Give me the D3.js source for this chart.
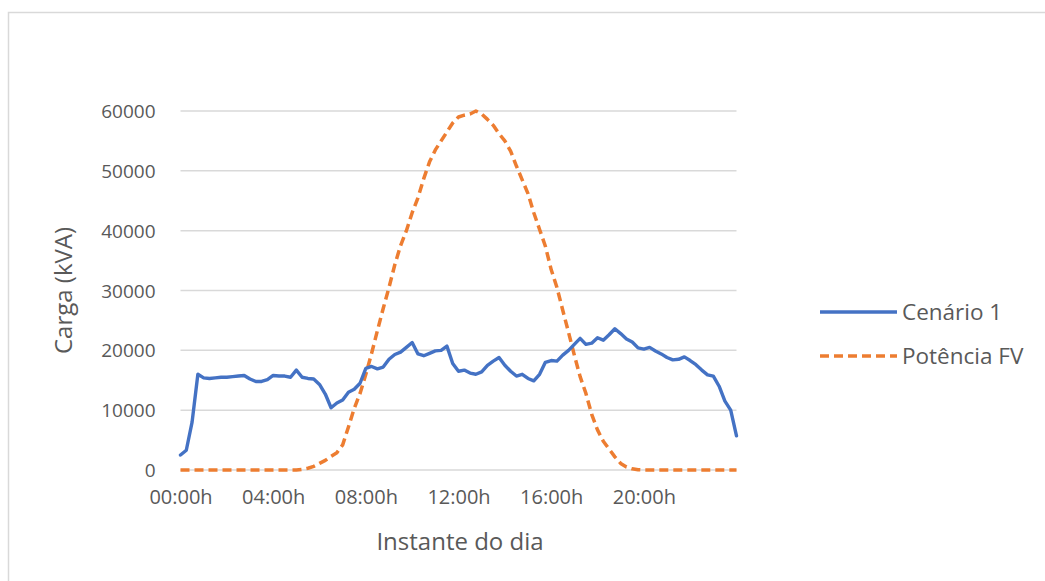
<!DOCTYPE html>
<html>
<head>
<meta charset="utf-8">
<script src="https://cdn.jsdelivr.net/npm/d3@7"></script>
<style>
  html, body { margin: 0; padding: 0; background: #fff; }
  svg { display: block; }
  text { font-family: "Open Sans", "Liberation Sans", sans-serif; fill: #595959; }
</style>
</head>
<body>
<svg id="chart" width="1045" height="581"></svg>
<script>
// ---- Data (15-minute steps, 00:00h .. 24:00h) ----
const seriesNames = ["Cenário 1", "Potência FV"];
const tickLabels = ["00:00h", "04:00h", "08:00h", "12:00h", "16:00h", "20:00h"];
const yTicks = [0, 10000, 20000, 30000, 40000, 50000, 60000];

const cenario1 = [
  2500, 3300, 8000, 16000, 15400, 15300, 15400, 15500, 15500, 15600,
  15700, 15800, 15200, 14800, 14800, 15100, 15800, 15700, 15700, 15500,
  16700, 15500, 15300, 15200, 14300, 12700, 10400, 11200, 11700, 13000,
  13500, 14500, 17000, 17300, 16900, 17200, 18500, 19300, 19700, 20500,
  21300, 19400, 19100, 19500, 19900, 20000, 20700, 17800, 16500, 16700,
  16200, 16000, 16400, 17500, 18200, 18800, 17500, 16500, 15700, 16000,
  15300, 14900, 16000, 18000, 18300, 18200, 19200, 20000, 21000, 22000,
  21000, 21200, 22100, 21700, 22600, 23600, 22800, 21900, 21400, 20400,
  20200, 20500, 19900, 19400, 18800, 18400, 18500, 18900, 18300, 17600,
  16700, 15900, 15700, 14000, 11500, 10000, 5700
];

const potenciaFV = [
  0, 0, 0, 0, 0, 0, 0, 0, 0, 0,
  0, 0, 0, 0, 0, 0, 0, 0, 0, 0,
  0, 100, 300, 600, 1100, 1600, 2300, 2900, 4200, 7200,
  10300, 12800, 16000, 19500, 23300, 27000, 30500, 34300, 37500, 40000,
  43000, 45500, 48700, 51500, 53500, 55000, 56500, 58000, 59000, 59300,
  59500, 60000, 59500, 58600, 57600, 56200, 55000, 53300, 50800, 48500,
  46200, 43000, 40200, 37400, 33500, 30500, 26700, 23000, 19200, 15600,
  12800, 9300, 6700, 4800, 3500, 2200, 1100, 500, 200, 50,
  0, 0, 0, 0, 0, 0, 0, 0, 0, 0,
  0, 0, 0, 0, 0, 0, 0
];

// ---- Layout ----
const svg = d3.select("#chart");
const plot = { left: 180.5, right: 736.5, top: 111, bottom: 470 };

// chart border
svg.append("rect")
  .attr("x", 8.5).attr("y", 12.5)
  .attr("width", 1100).attr("height", 700)
  .attr("fill", "none").attr("stroke", "#d9d9d9").attr("stroke-width", 1.5);

const n = cenario1.length;
const x = d3.scaleLinear().domain([0, n - 1]).range([plot.left, plot.right]);
const y = d3.scaleLinear().domain([0, 60000]).range([plot.bottom, plot.top]);

// gridlines
svg.append("g").selectAll("line").data(yTicks).join("line")
  .attr("x1", plot.left).attr("x2", plot.right)
  .attr("y1", d => y(d)).attr("y2", d => y(d))
  .attr("stroke", "#d9d9d9").attr("stroke-width", 1.5);

// y axis
const yAxis = d3.axisLeft(y).tickValues(yTicks).tickSize(0).tickPadding(0)
  .tickFormat(d3.format("d"));
const gy = svg.append("g").attr("transform", `translate(${plot.left - 25},0)`).call(yAxis);
gy.select(".domain").remove();
gy.selectAll("text").attr("font-size", 19).attr("fill", "#595959")
  .attr("font-family", "'Open Sans', sans-serif").attr("dy", "0.35em");

// x axis labels (every 16 points = 4h)
const xTickIdx = tickLabels.map((_, i) => i * 16);
const xAxis = d3.axisBottom(x).tickValues(xTickIdx).tickSize(0).tickPadding(0)
  .tickFormat((d, i) => tickLabels[i]);
const gx = svg.append("g").attr("transform", `translate(0,${plot.bottom + 20})`).call(xAxis);
gx.select(".domain").remove();
gx.selectAll("text").attr("font-size", 20).attr("fill", "#595959")
  .attr("font-family", "'Open Sans', sans-serif").attr("dy", "0.71em");

// axis titles
svg.append("text")
  .attr("transform", `translate(72,${(plot.top + plot.bottom) / 2}) rotate(-90)`)
  .attr("text-anchor", "middle").attr("font-size", 24).text("Carga (kVA)");
svg.append("text")
  .attr("x", 460).attr("y", 550)
  .attr("text-anchor", "middle").attr("font-size", 24).text("Instante do dia");

// lines
const line = d3.line().x((d, i) => x(i)).y(d => y(d));
svg.append("path").datum(potenciaFV)
  .attr("d", line).attr("fill", "none")
  .attr("stroke", "#ED7D31").attr("stroke-width", 3.5)
  .attr("stroke-dasharray", "9,5").attr("stroke-linejoin", "round");
svg.append("path").datum(cenario1)
  .attr("d", line).attr("fill", "none")
  .attr("stroke", "#4472C4").attr("stroke-width", 3.4)
  .attr("stroke-linejoin", "round").attr("stroke-linecap", "round");

// legend
const legend = [
  { name: seriesNames[0], color: "#4472C4", dash: null, y: 312 },
  { name: seriesNames[1], color: "#ED7D31", dash: "9,5", y: 356 }
];
const lg = svg.append("g");
legend.forEach(l => {
  lg.append("line").attr("x1", 820).attr("x2", 897).attr("y1", l.y).attr("y2", l.y)
    .attr("stroke", l.color).attr("stroke-width", 3.5)
    .attr("stroke-dasharray", l.dash);
  lg.append("text").attr("x", 902).attr("y", l.y).attr("dy", "0.35em")
    .attr("font-size", 22.5).text(l.name);
});
</script>
</body>
</html>
